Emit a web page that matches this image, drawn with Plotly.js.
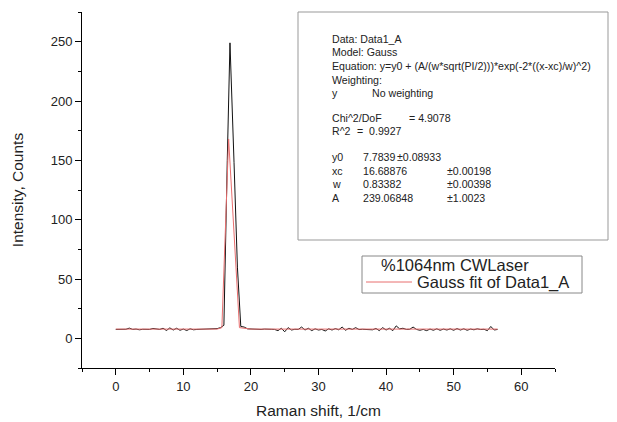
<!DOCTYPE html>
<html>
<head>
<meta charset="utf-8">
<script src="https://cdn.plot.ly/plotly-3.0.1.min.js"></script>
<style>
html,body{margin:0;padding:0;background:#fff;}
#chart{width:617px;height:422px;}
</style>
</head>
<body>
<div id="chart"></div>
<script>
// Measured spectrum (black)
var ramanShift = [0,0.5,1,1.5,2,2.5,3,3.5,4,4.5,5,5.5,6,6.5,7,7.5,8,8.5,9,9.5,10,10.5,11,11.5,12,12.5,13,13.5,14,14.5,15,15.5,16,16.5,16.9,17.5,18,18.5,19,19.5,20,20.5,21,21.5,22,22.5,23,23.5,24,24.5,25,25.5,26,26.5,27,27.5,28,28.5,29,29.5,30,30.5,31,31.5,32,32.5,33,33.5,34,34.5,35,35.5,36,36.5,37,37.5,38,38.5,39,39.5,40,40.5,41,41.5,42,42.5,43,43.5,44,44.5,45,45.5,46,46.5,47,47.5,48,48.5,49,49.5,50,50.5,51,51.5,52,52.5,53,53.5,54,54.5,55,55.5,56,56.5];
var intensity = [7.5,7.5,7.5,7.6,8.6,7.5,7.8,7.2,7.6,7.4,7.5,8.3,8.0,7.5,8.5,6.6,8.8,7.0,8.5,6.8,7.8,6.6,8.0,7.2,7.5,7.6,7.8,7.6,7.7,8.0,8.2,9.0,11,150,249,148,60,10,9.5,8.0,7.8,7.5,7.6,7.5,7.8,7.4,7.6,7.5,6.5,8.5,5.5,9.0,7.0,7.6,7.5,9.5,7.0,8.5,6.5,8.0,7.0,7.5,6.2,8.0,7.0,8.2,7.2,9.5,6.8,8.5,7.5,9.0,7.4,7.6,7.5,7.6,7.2,8.3,6.5,9.0,7.0,8.5,6.5,10.5,8.0,8.5,7.5,7.6,9.5,7.5,6.8,7.5,6.5,7.8,6.8,8.0,6.8,7.8,7.0,8.0,6.8,8.2,7.0,8.0,6.8,7.8,7.2,8.0,7.4,7.6,6.5,10.0,7.0,7.5];
// Gauss fit curve (red), as drawn
var fitShift = [0,5,10,15,15.7,16.7,18.3,20,30,40,50,56.5];
var fitIntensity = [7.8,7.8,7.8,7.8,9,168,9,7.8,7.8,7.8,7.8,7.8];

// Fit report text
var reportHeader = ["Data: Data1_A","Model: Gauss","Equation: y=y0 + (A/(w*sqrt(PI/2)))*exp(-2*((x-xc)/w)^2)","Weighting:"];
var paramNames = ["y0","xc","w","A"];
var paramValues = ["7.7839","16.68876","0.83382","239.06848"];
var paramErrors = ["\u00b10.08933","\u00b10.00198","\u00b10.00398","\u00b11.0023"];
var legendLabels = ["%1064nm CWLaser","Gauss fit of Data1_A"];

var M = {l:82, r:62, t:12, b:54};
var W = 617, H = 422;
var pw = W - M.l - M.r, ph = H - M.t - M.b;
function px(x){ return (x - M.l) / pw; }
function py(y){ return (H - M.b - y) / ph; }

var FONT = "Liberation Sans, Arial, sans-serif";
var anns = [];
function txt(x, y, s, size){
  anns.push({xref:'paper', yref:'paper', x:px(x), y:py(y), text:s, showarrow:false,
    xanchor:'left', yanchor:'middle', borderpad:0, font:{family:FONT, size:size||10.6, color:'#222'}});
}
var hy = [39, 52.5, 66, 79.5];
reportHeader.forEach(function(s,i){ txt(331, hy[i], s); });
txt(331, 92.5, "y"); txt(371, 92.5, "No weighting");
txt(331, 118, "Chi^2/DoF"); txt(408, 118, "= 4.9078");
txt(331, 131, "R^2"); txt(355.5, 131, "=  0.9927");
var ry = [157, 170.5, 184, 197.5];
var ex = [396, 446, 446, 446];
paramNames.forEach(function(s,i){
  txt(331, ry[i], s); txt(361.5, ry[i], paramValues[i]); txt(ex[i], ry[i], paramErrors[i]);
});
// legend texts
txt(380, 265, legendLabels[0], 16.5);
txt(416, 282, legendLabels[1], 16.5);

var shapes = [
  {type:'rect', xref:'paper', yref:'paper', x0:px(298), x1:px(608), y0:py(240), y1:py(12),
   line:{color:'#999', width:1}, fillcolor:'rgba(0,0,0,0)', layer:'above'},
  {type:'rect', xref:'paper', yref:'paper', x0:px(362), x1:px(582), y0:py(293), y1:py(256),
   line:{color:'#888', width:1}, fillcolor:'white', layer:'above'},
  {type:'line', xref:'paper', yref:'paper', x0:px(366), x1:px(412), y0:py(282), y1:py(282),
   line:{color:'rgb(232,110,110)', width:1}, layer:'above'}
];

var traces = [
  {x: ramanShift, y: intensity, type:'scatter', mode:'lines', name:legendLabels[0],
   line:{color:'#111', width:1}, showlegend:false},
  {x: fitShift, y: fitIntensity, type:'scatter', mode:'lines', name:legendLabels[1],
   line:{color:'rgb(232,110,110)', width:1}, showlegend:false}
];

var axisCommon = {
  showgrid:false, zeroline:false, showline:true, linecolor:'black', linewidth:1,
  ticks:'outside', ticklen:6, tickcolor:'black', tickwidth:1,
  tickfont:{family:FONT, size:13, color:'#222'}
};

var layout = {
  width:W, height:H, margin:M, paper_bgcolor:'white', plot_bgcolor:'white',
  showlegend:false,
  xaxis: Object.assign({}, axisCommon, {
    range:[-5,65], tick0:0, dtick:10,
    minor:{dtick:5, tick0:0, ticks:'outside', ticklen:3, tickcolor:'black'},
    title:{text:'Raman shift, 1/cm', font:{family:FONT, size:15.5, color:'#222'}, standoff:12}
  }),
  yaxis: Object.assign({}, axisCommon, {
    range:[-25,275], tick0:0, dtick:50,
    minor:{dtick:25, tick0:0, ticks:'outside', ticklen:3, tickcolor:'black'},
    title:{text:'Intensity, Counts', font:{family:FONT, size:15.5, color:'#222'}, standoff:23}
  }),
  shapes: shapes,
  annotations: anns
};

Plotly.newPlot('chart', traces, layout, {displayModeBar:false, staticPlot:true});
</script>
</body>
</html>
